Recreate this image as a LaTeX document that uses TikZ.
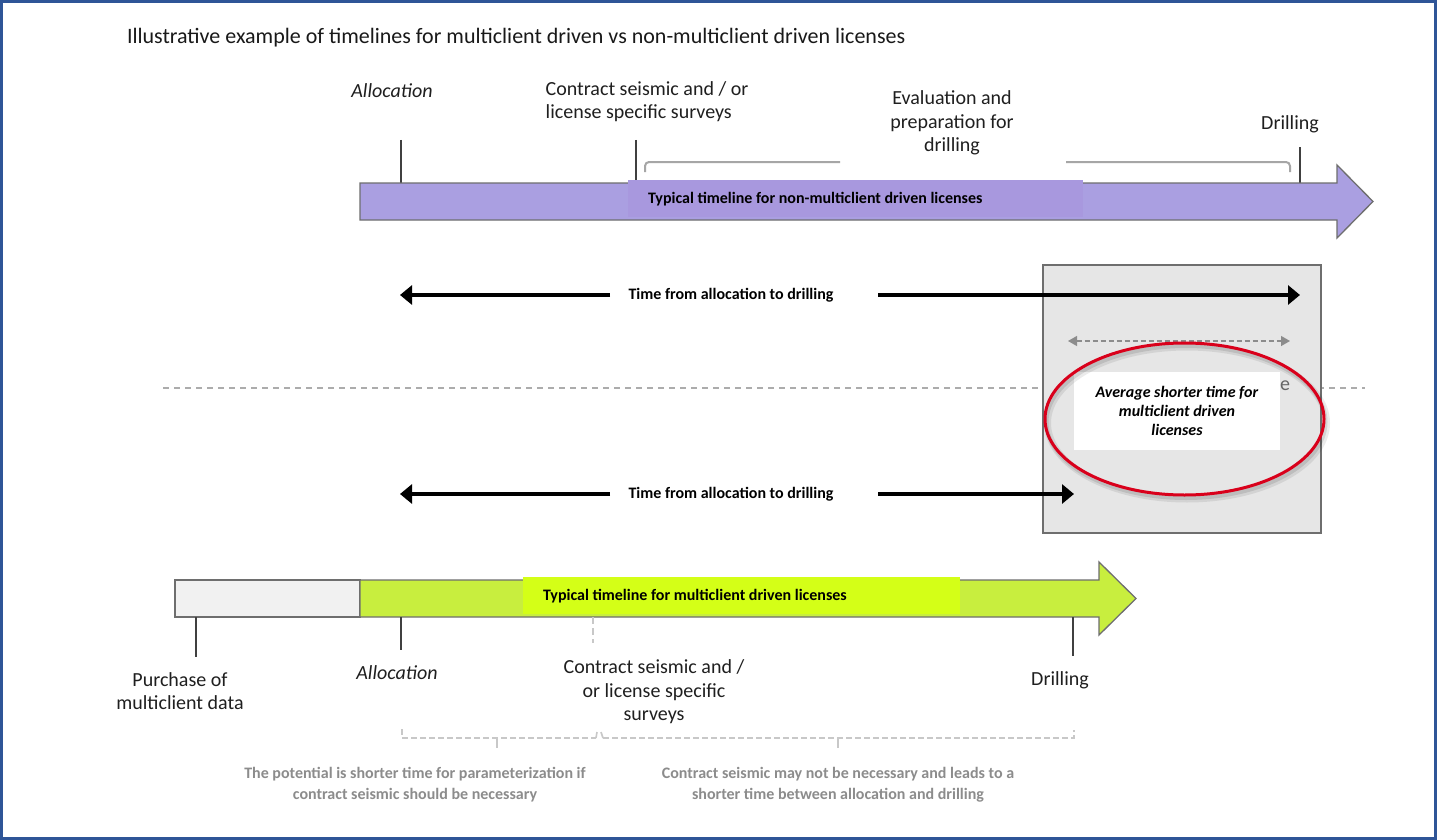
\documentclass[tikz,border=0pt]{standalone}
\usepackage{fontspec}
\setmainfont{Carlito}
\usetikzlibrary{arrows.meta,shapes.geometric}
\definecolor{frameblue}{HTML}{2F5597}
\definecolor{purplebar}{HTML}{AA9FE1}
\definecolor{purplebox}{HTML}{A898DE}
\definecolor{greenbar}{HTML}{C8EE3E}
\definecolor{greenbox}{HTML}{D4FF17}
\definecolor{greybar}{HTML}{F1F1F1}
\definecolor{boxgray}{HTML}{E6E6E6}
\definecolor{edgegray}{HTML}{6E6E6E}
\definecolor{brgray}{HTML}{A6A6A6}
\definecolor{lightgray2}{HTML}{C8C8C8}
\definecolor{sepgray}{HTML}{ACACAC}
\definecolor{notegray}{HTML}{8C8C8C}
\definecolor{dashgray}{HTML}{8C8C8C}
\definecolor{ovalred}{HTML}{D9001B}
\begin{document}
\begin{tikzpicture}[x=1pt,y=-1pt,
  every node/.style={inner sep=0pt, outer sep=0pt},
  lbl/.style={font=\fontsize{20}{23.5}\selectfont, align=center, text=black!88},
  lbli/.style={font=\fontsize{20}{23.5}\selectfont\itshape, align=center, text=black!88},
  bartext/.style={font=\fontsize{16}{18}\selectfont\bfseries, anchor=west},
  timetext/.style={font=\fontsize{16}{18}\selectfont\bfseries},
  tickline/.style={draw=black!75, line width=1.2pt},
  blkarrow/.style={draw=black, line width=3.2pt, -{Triangle[length=12pt,width=19pt]}},
  note/.style={font=\fontsize{16}{21}\selectfont\bfseries, text=notegray, align=center},
  brace/.style={draw=brgray, line width=2pt, rounded corners=4pt},
  dbrace/.style={draw=lightgray2, line width=1.6pt, dash pattern=on 6pt off 3pt},
  btip/.style={draw=lightgray2, line width=1.6pt},
  barline/.style={draw=edgegray, line width=1.3pt},
  ovalshape/.style={ellipse, minimum width=279pt, minimum height=152pt},
]
\useasboundingbox (0,0) rectangle (1437,840);
\fill[white] (0,0) rectangle (1437,840);
\draw[frameblue, line width=3pt] (1.5,1.5) rectangle (1435.5,838.5);

% title
\node[anchor=west, font=\fontsize{22}{26}\selectfont, text=black!90] (title) at (127,38) {Illustrative example of timelines for multiclient driven vs non-multiclient driven licenses};

% ---------- top timeline ----------
\node[lbli] (alloc1) at (392,91) {Allocation};
\node[lbl, align=left] (contract1) at (647,101.5) {Contract seismic and / or\\license specific surveys};
\node[lbl] (eval1) at (952,123) {Evaluation and\\preparation for\\drilling};
\node[lbl] (drill1) at (1290,124) {Drilling};

\coordinate (ta1) at (401,140); \coordinate (ta2) at (401,183);
\coordinate (tc1) at (636,140); \coordinate (tc2) at (636,181);
\coordinate (td1) at (1300,147); \coordinate (td2) at (1300,183);
\draw[tickline] (ta1) -- (ta2);
\draw[tickline] (tc1) -- (tc2);
\draw[tickline] (td1) -- (td2);

\draw[brace] (645,172) -- (645,162) -- (840,162);
\draw[brace] (1066,162) -- (1290,162) -- (1290,172);

\draw[barline, fill=purplebar] (360,183) -- (1337,183) -- (1337,165) -- (1373,201.5) -- (1337,238) -- (1337,220) -- (360,220) -- cycle;
\node[fill=purplebox, minimum width=455pt, minimum height=37pt, anchor=north west] (pbox) at (628,180) {};
\node[bartext] (ptext) at (648,199) {Typical timeline for non-multiclient driven licenses};

% ---------- separator ----------
\draw[sepgray, line width=1.2pt, dash pattern=on 6pt off 5pt] (163,388) -- (1365,388);

% ---------- grey comparison box ----------
\node[draw=edgegray, fill=boxgray, line width=1.3pt, minimum width=278pt, minimum height=268pt, anchor=north west] (gbox) at (1043,265) {};
\node[font=\fontsize{20}{22}\selectfont, text=black!60] (efrag) at (1285,386) {e};

% time arrows (top)
\node[timetext] (time1) at (731,295) {Time from allocation to drilling};
\coordinate (t1l) at (610,295); \coordinate (t1la) at (400,295);
\coordinate (t1r) at (878,295); \coordinate (t1ra) at (1300,295);
\draw[blkarrow] (t1l) -- (t1la);
\draw[blkarrow] (t1r) -- (t1ra);

% dashed difference arrow
\coordinate (dl) at (1068,341); \coordinate (dr) at (1290,341);
\draw[dashgray, line width=1.3pt, dash pattern=on 5pt off 3pt, {Triangle[length=9pt,width=10pt]}-{Triangle[length=9pt,width=10pt]}] (dl) -- (dr);

% ellipse and white box
\node[fill=white, minimum width=206pt, minimum height=78pt, anchor=north west] (wbox) at (1074,372) {};
\node[ovalshape, draw=black, opacity=0.08, line width=7pt] (ovalshadow1) at (1187,423) {};
\node[ovalshape, draw=black, opacity=0.10, line width=4pt] (ovalshadow2) at (1186,422) {};
\node[ovalshape, draw=ovalred, line width=3pt] (oval) at (1184.5,419) {};
\node[font=\fontsize{16}{19}\selectfont\bfseries\itshape, align=center] (avg) at (1177,411) {Average shorter time for\\multiclient driven\\licenses};

% time arrows (bottom)
\node[timetext] (time2) at (731,494) {Time from allocation to drilling};
\coordinate (t2l) at (610,494); \coordinate (t2la) at (400,494);
\coordinate (t2r) at (878,494); \coordinate (t2ra) at (1074,494);
\draw[blkarrow] (t2l) -- (t2la);
\draw[blkarrow] (t2r) -- (t2ra);

% ---------- bottom timeline ----------
\draw[barline, fill=greybar] (175,580) rectangle (360,617);
\draw[barline, fill=greenbar] (360,580) -- (1099,580) -- (1099,562) -- (1136,598.5) -- (1099,635) -- (1099,617) -- (360,617) -- cycle;
\node[fill=greenbox, minimum width=437pt, minimum height=37pt, anchor=north west] (gboxb) at (523,577) {};
\node[bartext] (gtext) at (543,596) {Typical timeline for multiclient driven licenses};

\coordinate (bp1) at (196,617); \coordinate (bp2) at (196,657);
\coordinate (ba1) at (401,617); \coordinate (ba2) at (401,650);
\coordinate (bc1) at (593,617); \coordinate (bc2) at (593,643);
\coordinate (bd1) at (1073,617); \coordinate (bd2) at (1073,656);
\draw[tickline] (bp1) -- (bp2);
\draw[tickline] (ba1) -- (ba2);
\draw[lightgray2, line width=1.3pt, dash pattern=on 7pt off 4pt] (bc1) -- (bc2);
\draw[tickline] (bd1) -- (bd2);

\node[lbl] (purch) at (180,691) {Purchase of\\multiclient data};
\node[lbli] (alloc2) at (397,673) {Allocation};
\node[lbl] (contract2) at (654,692) {Contract seismic and /\\or license specific\\surveys};
\node[lbl] (drill2) at (1060,680) {Drilling};

% dashed braces
\draw[dbrace] (402,729) |- (596,738);
\draw[btip] (596,738) -- (597,732);
\draw[btip] (497,738) -- (497,748);
\draw[btip] (601,732) -- (603,738);
\draw[dbrace] (603,738) -| (1074,730);
\draw[btip] (838,738) -- (838,748);

\node[note] (note1) at (415,785) {The potential is shorter time for parameterization if\\contract seismic should be necessary};
\node[note] (note2) at (838,785) {Contract seismic may not be necessary and leads to a\\shorter time between allocation and drilling};
\end{tikzpicture}
\end{document}
